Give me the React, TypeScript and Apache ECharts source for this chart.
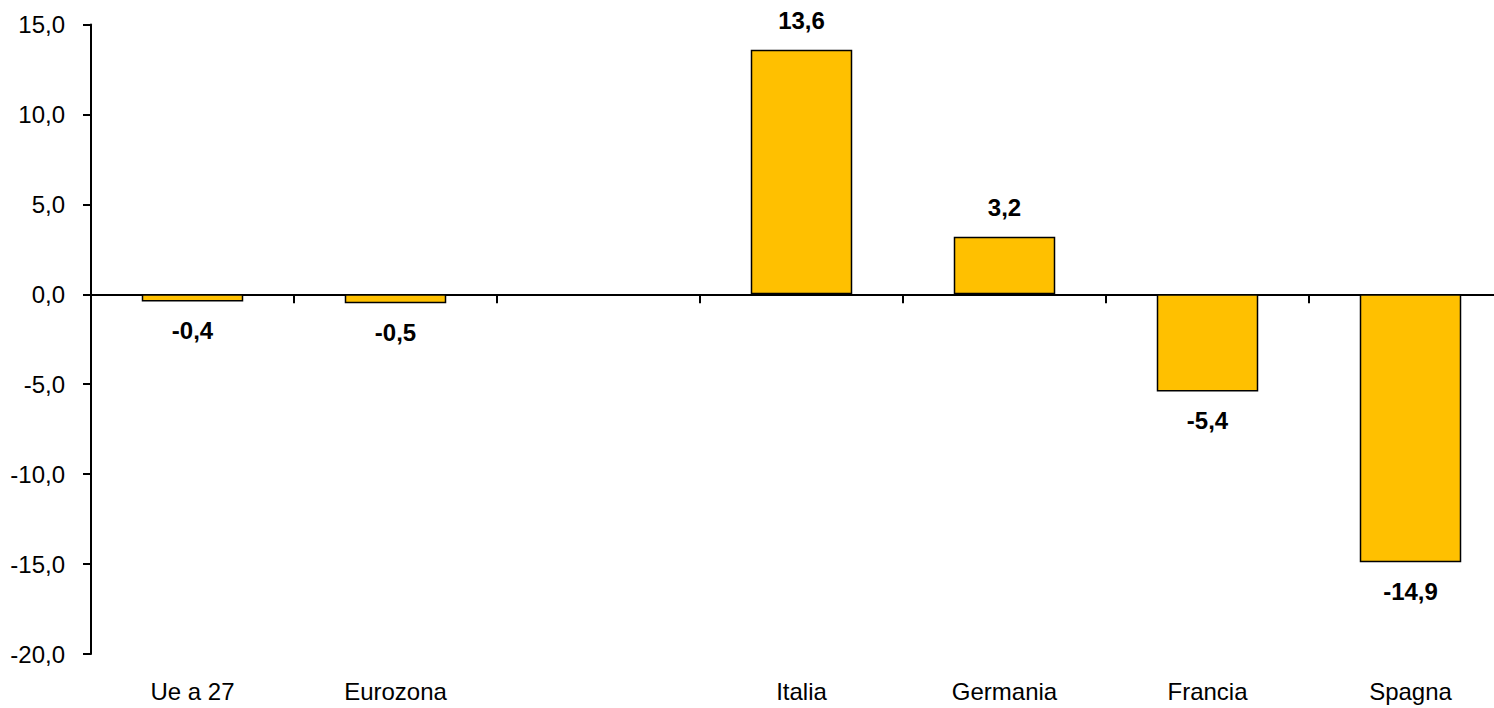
import React, { useEffect, useRef } from "react";
import * as echarts from "echarts";

const categories = ["Ue a 27", "Eurozona", "", "Italia", "Germania", "Francia", "Spagna"];
const values: (number | null)[] = [-0.4, -0.5, null, 13.6, 3.2, -5.4, -14.9];
const yMin = -20;
const yMax = 15;
const yInterval = 5;

const fmt = (v: number) => v.toFixed(1).replace(".", ",");
const FONT = "'Liberation Sans', Arial, sans-serif";

export default function App() {
  const ref = useRef<HTMLDivElement>(null);
  useEffect(() => {
    if (!ref.current) return;
    const chart = echarts.init(ref.current, undefined, { renderer: "svg" });
    chart.setOption({
      animation: false,
      backgroundColor: "#ffffff",
      grid: { left: 91, right: 0, top: 24.5, bottom: 54, containLabel: false },
      xAxis: [
        {
          type: "category",
          data: categories,
          position: "bottom",
          axisLine: { onZero: true, lineStyle: { color: "#000", width: 2 } },
          axisTick: { show: true, length: 9, lineStyle: { color: "#000", width: 2 } },
          axisLabel: { show: false },
          splitLine: { show: false },
        },
        {
          type: "category",
          data: categories,
          position: "bottom",
          axisLine: { show: false, onZero: false },
          axisTick: { show: false },
          axisLabel: {
            show: true,
            color: "#000",
            fontFamily: FONT,
            fontSize: 24,
            margin: 25,
            interval: 0,
          },
          splitLine: { show: false },
        },
      ],
      yAxis: {
        type: "value",
        min: yMin,
        max: yMax,
        interval: yInterval,
        axisLine: { show: true, lineStyle: { color: "#000", width: 2 } },
        axisTick: { show: true, length: 8, lineStyle: { color: "#000", width: 2 } },
        axisLabel: {
          color: "#000",
          fontFamily: FONT,
          fontSize: 24,
          margin: 26,
          formatter: (v: number) => fmt(v),
        },
        splitLine: { show: false },
      },
      series: [
        {
          type: "bar",
          xAxisIndex: 0,
          data: values.map((v) =>
            v === null
              ? null
              : {
                  value: v,
                  label: { position: v >= 0 ? "top" : "bottom" },
                }
          ),
          barWidth: "50%",
          itemStyle: { color: "#FFC000", borderColor: "#000", borderWidth: 1.5 },
          label: {
            show: true,
            distance: 17,
            color: "#000",
            fontFamily: FONT,
            fontWeight: "bold",
            fontSize: 24,
            formatter: (p: any) => fmt(p.value),
          },
        },
      ],
    });
    return () => chart.dispose();
  }, []);
  return (
    <div
      style={{
        position: "absolute",
        left: 0,
        top: 0,
        width: 1494,
        height: 708,
        overflow: "hidden",
      }}
    >
      <div ref={ref} style={{ width: 1512, height: 708 }} />
    </div>
  );
}
